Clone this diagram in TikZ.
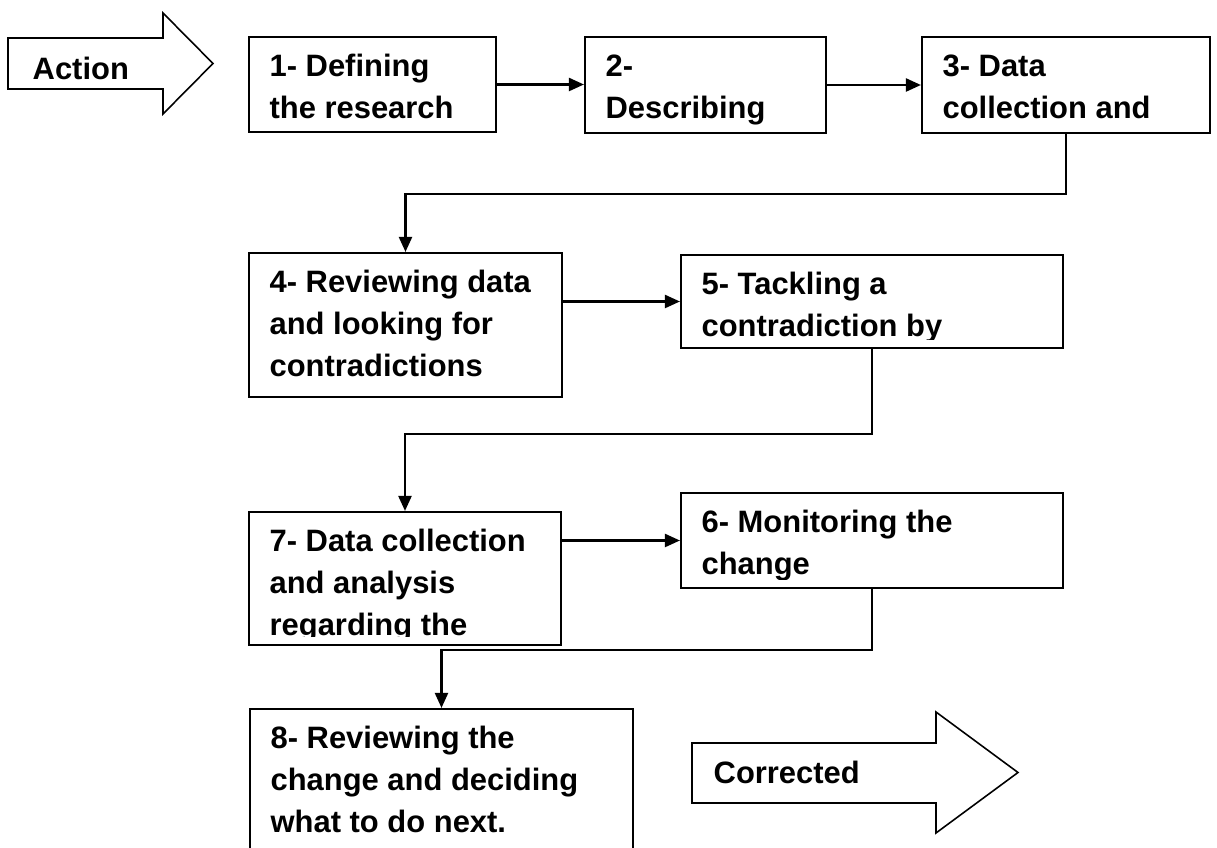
\documentclass[tikz,border=0pt]{standalone}
\usepackage{fontspec}
\setmainfont{Liberation Sans}
\usetikzlibrary{arrows.meta}

\tikzset{
  stepbox/.style={draw, line width=0.6pt, inner sep=0pt},
  steplines/.style={anchor=north west, inner sep=0pt, align=left,
    font=\fontsize{8.8}{11.95}\selectfont\bfseries},
  flow/.style={line width=0.65pt, -{Triangle[length=0.15cm, width=0.13cm]}},
  bigarrow/.style={draw, line width=0.45pt},
  arrowlabel/.style={anchor=base west, inner sep=0pt,
    font=\fontsize{8.8}{11.95}\selectfont\bfseries}
}

\begin{document}
\begin{tikzpicture}
	\useasboundingbox (0,0) rectangle (12.17,8.48);
	\clip (0,0) rectangle (12.17,8.48);

	% block arrows
	\draw[bigarrow] (0.08,8.10) -- (1.63,8.10) -- (1.63,8.35) -- (2.13,7.845)
		-- (1.63,7.34) -- (1.63,7.59) -- (0.08,7.59) -- cycle;
	\node[arrowlabel] (action) at (0.32,7.68) {Action};
	\draw[bigarrow] (6.92,1.05) -- (9.36,1.05) -- (9.36,1.36) -- (10.18,0.755)
		-- (9.36,0.15) -- (9.36,0.45) -- (6.92,0.45) -- cycle;
	\node[arrowlabel] (corrected) at (7.13,0.64) {Corrected};

	% steps
	\node[stepbox, minimum width=2.47cm, minimum height=0.95cm] (s1) at (3.725,7.635) {};
	\node[stepbox, minimum width=2.41cm, minimum height=0.96cm] (s2) at (7.055,7.63) {};
	\node[stepbox, minimum width=2.88cm, minimum height=0.96cm] (s3) at (10.66,7.63) {};
	\node[stepbox, minimum width=3.13cm, minimum height=1.44cm] (s4) at (4.055,5.23) {};
	\node[stepbox, minimum width=3.82cm, minimum height=0.93cm] (s5) at (8.72,5.465) {};
	\node[stepbox, minimum width=3.82cm, minimum height=0.95cm] (s6) at (8.72,3.075) {};
	\node[stepbox, minimum width=3.12cm, minimum height=1.33cm] (s7) at (4.05,2.695) {};
	\node[stepbox, minimum width=3.83cm, minimum height=1.71cm] (s8) at (4.415,0.535) {};

	% step texts, cut off at the inner margin of their box
	\foreach \n/\t in {s1/{1- Defining\\the research}, s2/{2-\\Describing},
		s3/{3- Data\\collection and}, s4/{4- Reviewing data\\and looking for\\contradictions},
		s5/{5- Tackling a\\contradiction by}, s6/{6- Monitoring the\\change},
		s7/{7- Data collection\\and analysis\\regarding the},
		s8/{8- Reviewing the\\change and deciding\\what to do next.}} {
		\begin{scope}
			\clip ([yshift=0.1cm]\n.south west) rectangle (\n.north east);
			\node[steplines] (\n text) at ([xshift=0.21cm]\n.north west) {\rule{0pt}{0.40cm}\t};
		\end{scope}
	}

	% connectors
	\draw[flow] (s1.east) -- (s1.east -| s2.west);
	\draw[flow] (s2.east) -- (s2.east -| s3.west);
	\draw[flow] (s3.south) -- ++(0,-0.60) -| (s4.north);
	\draw[flow] (s5.west -| s4.east) -- (s5.west);
	\draw[flow] (s5.south) -- ++(0,-0.85) -| (s7.north);
	\draw[flow] (s6.west -| s7.east) -- (s6.west);
	\draw[flow] (s6.south) -- ++(0,-0.61) -| (s8.north);
\end{tikzpicture}
\end{document}
